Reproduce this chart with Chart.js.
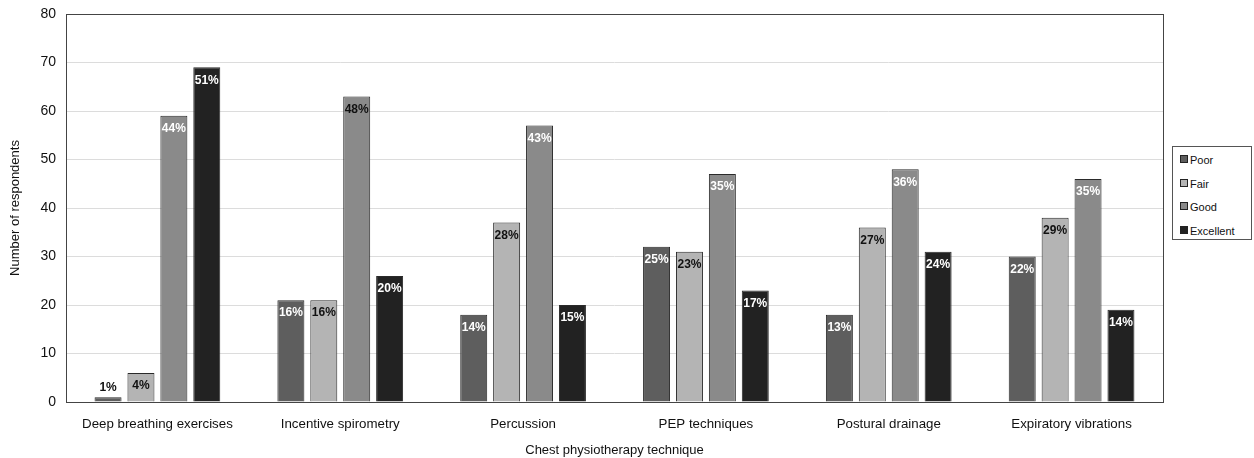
<!DOCTYPE html>
<html>
<head>
<meta charset="utf-8">
<script src="https://cdn.jsdelivr.net/npm/chart.js@4.4.1/dist/chart.umd.min.js"></script>
<style>
    html, body { margin: 0; padding: 0; background: #fff; }
    #wrap { position: relative; width: 1254px; height: 458px; }
    #legendBox {
        position: absolute; left: 1172px; top: 146px; width: 80px; height: 94px;
        border: 1px solid #555; box-sizing: border-box; background: #fff;
        font-family: "Liberation Sans", Arial, sans-serif; font-size: 11px; color: #111;
        padding-top: 6px;
    }
    .lg-item { height: 23.5px; line-height: 14px; padding-left: 7px; white-space: nowrap; }
    .lg-sw { display: inline-block; width: 6px; height: 6px; border: 1px solid #222; margin-right: 2px; vertical-align: 1px; }
</style>
</head>
<body>
<div id="wrap">
    <canvas id="techChart" width="1254" height="458"></canvas>
    <div id="legendBox"></div>
</div>
<script>
// Daten
const categories = ['Deep breathing exercises', 'Incentive spirometry', 'Percussion', 'PEP techniques', 'Postural drainage', 'Expiratory vibrations'];
const seriesNames = ['Poor', 'Fair', 'Good', 'Excellent'];
const poorValues = [1, 21, 18, 32, 18, 30];
const fairValues = [6, 21, 37, 31, 36, 38];
const goodValues = [59, 63, 57, 47, 48, 46];
const excellentValues = [69, 26, 20, 23, 31, 19];
const poorLabels = ['1%', '16%', '14%', '25%', '13%', '22%'];
const fairLabels = ['4%', '16%', '28%', '23%', '27%', '29%'];
const goodLabels = ['44%', '48%', '43%', '35%', '36%', '35%'];
const excellentLabels = ['51%', '20%', '15%', '17%', '24%', '14%'];
const yTicks = [0, 10, 20, 30, 40, 50, 60, 70, 80];

const fontFamily = '"Liberation Sans", Arial, Helvetica, sans-serif';
const barColors = ['#5e5e5e', '#b4b4b4', '#8a8a8a', '#222222'];
const labelColors = ['#ffffff', '#111111', '#ffffff', '#ffffff'];
const valueSets = [poorValues, fairValues, goodValues, excellentValues];
const labelSets = [poorLabels, fairLabels, goodLabels, excellentLabels];

// Prozentwerte oben in die Balken schreiben
const pctLabelPlugin = {
    id: 'pctLabels',
    afterDatasetsDraw(chart) {
        const ctx = chart.ctx;
        ctx.save();
        ctx.font = 'bold 12px ' + fontFamily;
        ctx.textAlign = 'center';
        ctx.textBaseline = 'middle';
        chart.data.datasets.forEach((ds, i) => {
            const meta = chart.getDatasetMeta(i);
            meta.data.forEach((bar, j) => {
                const txt = labelSets[i][j];
                const h = bar.base - bar.y;
                if (h < 20) {
                    ctx.fillStyle = '#111';
                    ctx.fillText(txt, bar.x, bar.y - 9);
                } else {
                    // 48% steht im Original dunkel
                    ctx.fillStyle = (i === 2 && j === 1) ? '#111111' : labelColors[i];
                    ctx.fillText(txt, bar.x, bar.y + 13);
                }
            });
        });
        ctx.restore();
    }
};

// Rahmen um den Plotbereich
const framePlugin = {
    id: 'frame',
    afterDraw(chart) {
        const a = chart.chartArea;
        const ctx = chart.ctx;
        ctx.save();
        ctx.strokeStyle = '#444';
        ctx.lineWidth = 1;
        ctx.strokeRect(Math.round(a.left) + 0.5, Math.round(a.top) + 0.5, Math.round(a.right - a.left), Math.round(a.bottom - a.top));
        ctx.restore();
    }
};

const datasets = seriesNames.map((name, i) => ({
    label: name,
    data: valueSets[i],
    backgroundColor: barColors[i],
    borderColor: '#2a2a2a',
    borderWidth: 1,
    categoryPercentage: 0.72,
    barPercentage: 0.82
}));

new Chart(document.getElementById('techChart'), {
    type: 'bar',
    data: { labels: categories, datasets: datasets },
    options: {
        responsive: false,
        animation: false,
        layout: { padding: { top: 14, right: 91, left: 0, bottom: 0 } },
        plugins: {
            legend: { display: false },
            tooltip: { enabled: false }
        },
        scales: {
            x: {
                grid: { display: false, drawTicks: false },
                border: { display: false },
                ticks: { color: '#111', padding: 14, font: { family: fontFamily, size: 13.3 } },
                title: { display: true, text: 'Chest physiotherapy technique', color: '#111', padding: { top: 3, bottom: 0 }, font: { family: fontFamily, size: 13 } },
                afterFit(scale) { scale.height = 56; }
            },
            y: {
                min: 0,
                max: 80,
                afterBuildTicks(scale) { scale.ticks = yTicks.map(v => ({ value: v })); },
                grid: { color: '#dcdcdc', drawTicks: false },
                border: { display: false },
                ticks: { color: '#111', padding: 10, font: { family: fontFamily, size: 14 } },
                title: { display: true, text: 'Number of respondents', color: '#111', padding: { top: 8, bottom: 0 }, font: { family: fontFamily, size: 13 } },
                afterFit(scale) {
                    scale.width = 66;
                    scale.paddingTop = 0;
                    scale.paddingBottom = 0;
                }
            }
        }
    },
    plugins: [pctLabelPlugin, framePlugin]
});

// Legende
const legendBox = document.getElementById('legendBox');
seriesNames.forEach((name, i) => {
    const item = document.createElement('div');
    item.className = 'lg-item';
    item.innerHTML = '<span class="lg-sw" style="background:' + barColors[i] + '"></span>' + name;
    legendBox.appendChild(item);
});
</script>
</body>
</html>
